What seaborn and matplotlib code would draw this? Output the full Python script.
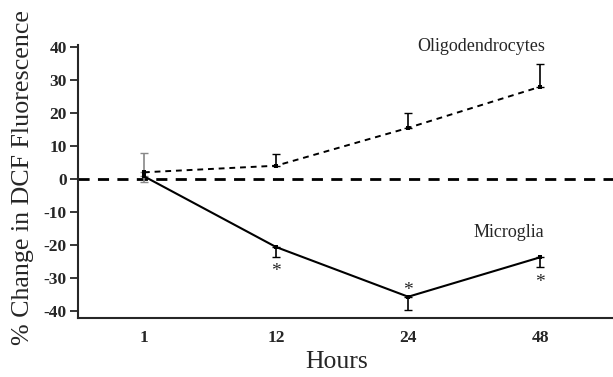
import seaborn as sns
import matplotlib.pyplot as plt
import numpy as np
import pandas as pd

# values
hours = ["1", "12", "24", "48"]
oligo = [2, 4, 15.5, 28]
oligo_err = [6, 3.5, 4.5, 7]
micro = [0.8, -20.7, -35.8, -23.8]
micro_err = [1.8, 3, 4, 3]
micro_star = ["", "below", "above", "below"]

sns.set_style("ticks")
plt.rcParams['font.family'] = ['Liberation Serif', 'DejaVu Serif']

df = pd.DataFrame({
    'Hours': hours * 2,
    'value': oligo + micro,
    'cell': ['Oligodendrocytes'] * 4 + ['Microglia'] * 4,
})
df['pos'] = np.tile(np.arange(len(hours)), 2)

fig = plt.figure(figsize=(6.13, 3.77), dpi=100)
ax = fig.add_axes([0.127, 0.157, 0.873, 0.723])

# zero reference line
ax.axhline(0, color='black', lw=2, ls=(0, (4, 3)), zorder=1)

sns.lineplot(data=df[df.cell == 'Oligodendrocytes'], x='pos', y='value',
             color='black', lw=1.4, ls=(0, (3, 2.5)), marker='s', markersize=3,
             markeredgewidth=0, ax=ax, zorder=3)
sns.lineplot(data=df[df.cell == 'Microglia'], x='pos', y='value',
             color='black', lw=1.5, marker='s', markersize=3,
             markeredgewidth=0, ax=ax, zorder=3)

x = np.arange(len(hours))
# upper error bars for oligodendrocytes, lower for microglia
for i in x:
    c = '#888888' if i == 0 else 'black'
    ax.errorbar(i, oligo[i], yerr=[[0], [oligo_err[i]]], color=c,
                lw=1.2, capsize=3, capthick=1, fmt='none', zorder=2)
    ax.errorbar(i, micro[i], yerr=[[micro_err[i]], [0]], color=c,
                lw=1.2, capsize=3, capthick=1, fmt='none', zorder=2)
    if micro_star[i] == 'below':
        ax.text(i, micro[i] - micro_err[i] - 2, '*', ha='center', va='top', fontsize=14)
    elif micro_star[i] == 'above':
        ax.text(i, micro[i] - 0.8, '*', ha='center', va='bottom', fontsize=14)

ax.text(2.55, 40.3, 'Oligodendrocytes', ha='center', va='center', fontsize=13)
ax.text(2.76, -16.3, 'Microglia', ha='center', va='center', fontsize=13)

ax.set_xlim(-0.5, 3.55)
ax.set_ylim(-42.2, 40.6)
ax.set_xticks(x)
ax.set_xticklabels(hours, fontsize=12.5, fontweight='bold')
ax.set_yticks(np.arange(-40, 41, 10))
ax.set_yticklabels([str(v) for v in range(-40, 41, 10)], fontsize=12.5, fontweight='bold')
ax.tick_params(axis='x', length=0, pad=9)
ax.tick_params(axis='y', length=6, width=1.3, pad=2)
ax.set_xlabel('Hours', fontsize=18.5)
ax.xaxis.set_label_coords(0.484, -0.122)
ax.set_ylabel('% Change in DCF Fluorescence', fontsize=18.7)
ax.yaxis.set_label_coords(-0.082, 0.515)
sns.despine(ax=ax)
for s in ['left', 'bottom']:
    ax.spines[s].set_linewidth(1.5)

plt.savefig('out.png', dpi=100)
